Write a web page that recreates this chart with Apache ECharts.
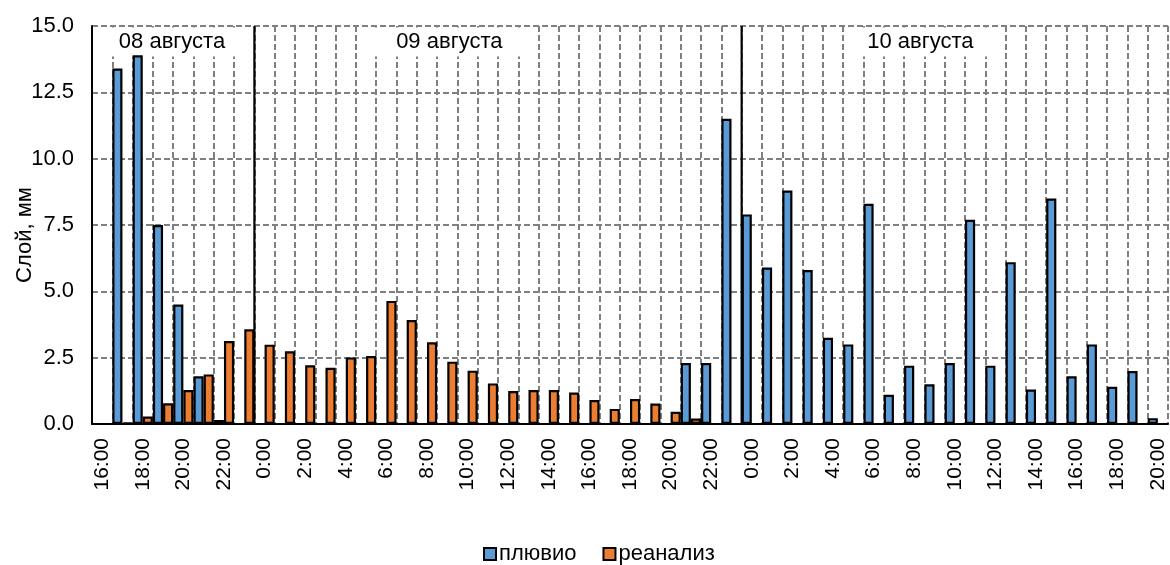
<!DOCTYPE html>
<html><head><meta charset="utf-8">
<script src="https://cdn.jsdelivr.net/npm/echarts@6/dist/echarts.min.js"></script>
<style>html,body{margin:0;padding:0;background:#fff}#c{width:1170px;height:565px}</style>
</head><body><div id="c"></div>
<script>
// categories: hourly, 08 Aug 16:00 .. 10 Aug 20:00
const hours = [
  '16:00','17:00','18:00','19:00','20:00','21:00','22:00','23:00',
  '0:00','1:00','2:00','3:00','4:00','5:00','6:00','7:00','8:00','9:00','10:00','11:00',
  '12:00','13:00','14:00','15:00','16:00','17:00','18:00','19:00','20:00','21:00','22:00','23:00',
  '0:00','1:00','2:00','3:00','4:00','5:00','6:00','7:00','8:00','9:00','10:00','11:00',
  '12:00','13:00','14:00','15:00','16:00','17:00','18:00','19:00','20:00'
];
const pluvio = [
  0, 13.4, 13.9, 7.5, 4.5, 1.8, 0.15, 0,
  0, 0, 0, 0, 0, 0, 0, 0, 0, 0, 0, 0, 0, 0, 0, 0, 0, 0, 0, 0, 0, 2.3, 2.3, 11.5,
  7.9, 5.9, 8.8, 5.8, 3.25, 3.0, 8.3, 1.1, 2.2, 1.5, 2.3, 7.7, 2.2, 6.1, 1.3, 8.5, 1.8, 3.0, 1.4, 2.0, 0.22
];
const reanaliz = [
  0, 0.05, 0.28, 0.78, 1.28, 1.87, 3.13, 3.57,
  2.99, 2.74, 2.21, 2.12, 2.51, 2.56, 4.64, 3.92, 3.08, 2.35, 2.01, 1.53, 1.24, 1.28,
  1.28, 1.19, 0.90, 0.57, 0.94, 0.77, 0.46, 0.21, 0, 0,
  0, 0, 0, 0, 0, 0, 0, 0, 0, 0, 0, 0, 0, 0, 0, 0, 0, 0, 0, 0, 0
];
const seriesNames = ['плювио', 'реанализ'];
const yAxisTitle = 'Слой, мм';
const dayLabels = ['08 августа', '09 августа', '10 августа'];
const dayStartIndex = [8, 32]; // first category of a new day

const FONT = "'Liberation Sans', Arial, sans-serif";
const chart = echarts.init(document.getElementById('c'), null, {renderer: 'canvas'});
const dash = {color: '#7f7f7f', width: 2, type: [6, 3]};

chart.setOption({
  animation: false,
  backgroundColor: '#fff',
  textStyle: {fontFamily: FONT},
  grid: {left: 92, right: 2, top: 26, bottom: 141, containLabel: false},
  legend: {
    left: 478, top: 538, itemWidth: 12, itemHeight: 12, itemGap: 26,
    icon: 'rect',
    textStyle: {fontSize: 22, color: '#000', fontFamily: FONT, padding: [0, 0, 0, -2]},
    data: seriesNames
  },
  xAxis: {
    type: 'category', data: hours, boundaryGap: true,
    axisLine: {lineStyle: {color: '#000', width: 2}},
    axisTick: {show: false},
    axisLabel: {interval: 1, rotate: 90, fontSize: 21, color: '#000', margin: 14, fontFamily: FONT},
    splitLine: {show: true, interval: 0, lineStyle: dash}
  },
  yAxis: {
    type: 'value', min: 0, max: 15, interval: 2.5,
    axisLine: {show: true, lineStyle: {color: '#000', width: 2}},
    axisTick: {show: false},
    axisLabel: {fontSize: 22, color: '#000', margin: 18, fontFamily: FONT, formatter: v => v.toFixed(1)},
    splitLine: {show: true, lineStyle: dash}
  },
  series: [
    {name: seriesNames[0], type: 'bar', data: pluvio, barGap: '0%', barCategoryGap: '0%',
     itemStyle: {color: '#5B9BD5', borderColor: '#000', borderWidth: 2.2}},
    {name: seriesNames[1], type: 'bar', data: reanaliz, barGap: '0%', barCategoryGap: '0%',
     itemStyle: {color: '#ED7D31', borderColor: '#000', borderWidth: 2.2}}
  ]
});

// annotations placed through the axes
const c0 = chart.convertToPixel({xAxisIndex: 0}, 0);
const c1 = chart.convertToPixel({xAxisIndex: 0}, 1);
const w = c1 - c0;
const bx = f => c0 - w / 2 + f * w;           // category boundary (fractional) -> px
const yTop = chart.convertToPixel({yAxisIndex: 0}, 15);
const yBot = chart.convertToPixel({yAxisIndex: 0}, 0);

const boxSpans = [[0, 8, 3.94], [13.55, 21.5, 17.6], [37.1, 44.7, 40.8]];
const g = [];
boxSpans.forEach((s, i) => {
  g.push({type: 'rect', z: 1, silent: true,
    shape: {x: bx(s[0]) + 1.5, y: yTop + 1.5, width: bx(s[1]) - bx(s[0]) - 3, height: 29},
    style: {fill: '#fff'}});
  g.push({type: 'text', z: 10, silent: true, x: bx(s[2]), y: yTop + 16,
    style: {text: dayLabels[i], fontSize: 22, fontFamily: FONT, fill: '#000', align: 'center', verticalAlign: 'middle'}});
});
dayStartIndex.forEach(idx => {
  g.push({type: 'line', z: 10, silent: true,
    shape: {x1: bx(idx), y1: yTop, x2: bx(idx), y2: yBot},
    style: {stroke: '#000', lineWidth: 2.2}});
});
g.push({type: 'text', z: 10, silent: true, x: 25, y: (yTop + yBot) / 2 + 10, rotation: Math.PI / 2,
  style: {text: yAxisTitle, fontSize: 22, fontFamily: FONT, fill: '#000', align: 'center', verticalAlign: 'middle'}});
chart.setOption({graphic: g});
</script>
</body></html>
